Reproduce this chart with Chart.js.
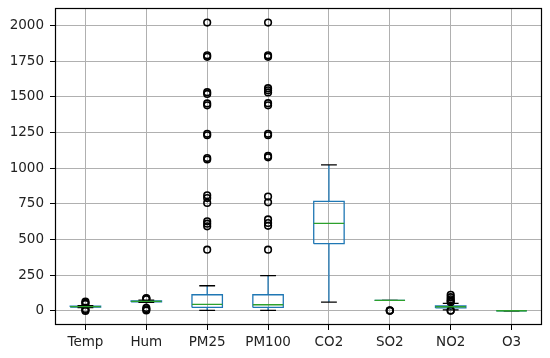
<!DOCTYPE html>
<html>
<head>
<meta charset="utf-8">
<script src="https://cdn.jsdelivr.net/npm/chart.js@4/dist/chart.umd.min.js"></script>
<style>
  html, body { margin: 0; padding: 0; background: #fff; }
  .container { width: 550px; height: 358px; }
</style>
</head>
<body>
<div class="container">
  <canvas id="boxChart"></canvas>
</div>
<script>
  // values
  var categories = ["Temp", "Hum", "PM25", "PM100", "CO2", "SO2", "NO2", "O3"];
  var q1 =          [26, 62, 23, 23, 470, 72, 20, 0];
  var medians =     [29, 66, 44, 42, 613, 72, 28, 0];
  var q3 =          [32, 69, 112, 112, 767, 72, 34, 0];
  var whiskerLow =  [22, 58, 2, 2, 61, 72, 6, 0];
  var whiskerHigh = [36, 75, 175, 246, 1022, 72, 52, 0];
  var outliers = [
    [-2, 5, 12, 48, 56, 64],
    [2, 10, 20, 80, 85, 89],
    [428, 592, 610, 627, 756, 790, 809, 1060, 1070, 1230, 1240, 1440, 1453, 1520, 1532, 1780, 1790, 2020],
    [428, 595, 615, 640, 760, 800, 1075, 1085, 1230, 1240, 1440, 1455, 1530, 1545, 1560, 1780, 1790, 2020],
    [],
    [0, 1, 2],
    [0, 2, 60, 68, 80, 95, 112],
    []
  ];
  var yTicks = [0, 250, 500, 750, 1000, 1250, 1500, 1750, 2000];

  var boxHalf = 0.25;
  var capHalf = 0.13;

  var boxPts = [], whiskerPts = [], capPts = [], medianPts = [], flierPts = [];
  for (var i = 0; i < categories.length; i++) {
    var x = i + 1;
    boxPts.push({x: x - boxHalf, y: q1[i]}, {x: x + boxHalf, y: q1[i]},
                {x: x + boxHalf, y: q3[i]}, {x: x - boxHalf, y: q3[i]},
                {x: x - boxHalf, y: q1[i]}, {x: x, y: null});
    whiskerPts.push({x: x, y: q1[i]}, {x: x, y: whiskerLow[i]}, {x: x, y: null},
                    {x: x, y: q3[i]}, {x: x, y: whiskerHigh[i]}, {x: x, y: null});
    capPts.push({x: x - capHalf, y: whiskerLow[i]}, {x: x + capHalf, y: whiskerLow[i]}, {x: x, y: null},
                {x: x - capHalf, y: whiskerHigh[i]}, {x: x + capHalf, y: whiskerHigh[i]}, {x: x, y: null});
    medianPts.push({x: x - boxHalf, y: medians[i]}, {x: x + boxHalf, y: medians[i]}, {x: x, y: null});
    for (var k = 0; k < outliers[i].length; k++) {
      flierPts.push({x: x, y: outliers[i][k]});
    }
  }

  function segments(label, data, color, order) {
    return {
      label: label,
      data: data,
      showLine: true,
      spanGaps: false,
      borderColor: color,
      borderWidth: 1.3,
      pointRadius: 0,
      fill: false,
      order: order
    };
  }

  // black frame round the plot area
  var framePlugin = {
    id: "frame",
    afterDraw: function(chart) {
      var a = chart.chartArea;
      var ctx = chart.ctx;
      ctx.save();
      ctx.strokeStyle = "#000";
      ctx.lineWidth = 1.2;
      ctx.strokeRect(Math.round(a.left) + 0.5, Math.round(a.top) + 0.5,
                     Math.round(a.right - a.left) - 1, Math.round(a.bottom - a.top) - 1);
      ctx.restore();
    }
  };

  var ctx = document.getElementById("boxChart").getContext("2d");
  var myChart = new Chart(ctx, {
    type: "scatter",
    data: {
      datasets: [
        segments("boxes", boxPts, "#1f77b4", 5),
        segments("whiskers", whiskerPts, "#1f77b4", 4),
        segments("caps", capPts, "#000000", 3),
        {
          label: "fliers",
          data: flierPts,
          pointStyle: "circle",
          pointRadius: 3.3,
          pointBorderWidth: 1.6,
          pointBorderColor: "#000",
          pointBackgroundColor: "rgba(0,0,0,0)",
          order: 2
        },
        segments("medians", medianPts, "#2ca02c", 1)
      ]
    },
    options: {
      responsive: true,
      maintainAspectRatio: false,
      animation: false,
      layout: { padding: { top: 8, right: 8, left: 0, bottom: 0 } },
      plugins: {
        legend: { display: false },
        tooltip: { enabled: false }
      },
      scales: {
        x: {
          type: "linear",
          min: 0.5,
          max: 8.5,
          afterBuildTicks: function(scale) {
            scale.ticks = categories.map(function(c, i) { return {value: i + 1}; });
          },
          afterFit: function(scale) {
            scale.height = 33;
            scale.paddingLeft = 0;
            scale.paddingRight = 0;
          },
          grid: { color: "#b0b0b0", lineWidth: 1, tickColor: "#000", tickLength: 5 },
          border: { display: false },
          ticks: {
            color: "#222",
            font: { family: "DejaVu Sans", size: 13.5 },
            padding: 4,
            maxRotation: 0,
            callback: function(v) { return categories[v - 1]; }
          }
        },
        y: {
          min: -100,
          max: 2122,
          afterBuildTicks: function(scale) {
            scale.ticks = yTicks.map(function(v) { return {value: v}; });
          },
          afterFit: function(scale) {
            scale.width = 55;
            scale.paddingTop = 0;
            scale.paddingBottom = 0;
          },
          grid: { color: "#b0b0b0", lineWidth: 1, tickColor: "#000", tickLength: 5 },
          border: { display: false },
          ticks: {
            color: "#222",
            font: { family: "DejaVu Sans", size: 13.5 },
            padding: 6,
            callback: function(v) { return String(v); }
          }
        }
      }
    },
    plugins: [framePlugin]
  });
</script>
</body>
</html>
